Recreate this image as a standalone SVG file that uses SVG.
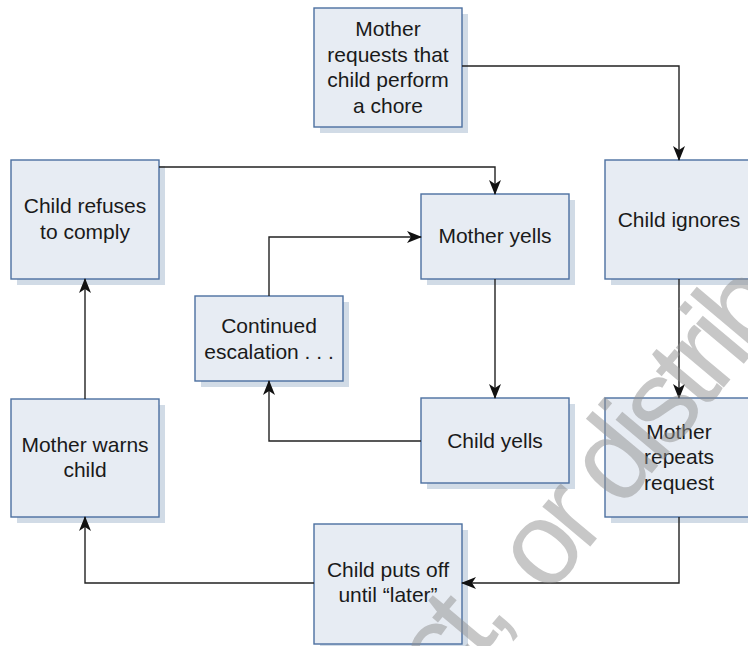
<svg xmlns="http://www.w3.org/2000/svg" width="748" height="646" viewBox="0 0 748 646">
<style>
.box{fill:#e7ecf3;stroke:#4c70a0;stroke-width:1.4}
.sh{fill:#d1dbe6}
.t{font-family:"Liberation Sans",Arial,sans-serif;font-size:21px;fill:#1a1a1a;text-anchor:middle}
.c{fill:none;stroke:#222;stroke-width:1.4}
.wm{font-family:"Liberation Sans",Arial,sans-serif;font-size:118px;letter-spacing:-8px;fill:#8f8f8f;fill-opacity:0.5}
</style>
<defs>
<marker id="ah" markerUnits="userSpaceOnUse" markerWidth="16" markerHeight="12" refX="14" refY="6" orient="auto">
<path d="M0,0 L15,6 L0,12 L4,6 z" fill="#111"/>
</marker>
</defs>
<rect width="748" height="646" fill="#fff"/>
<g id="n1"><rect class="sh" x="320" y="14" width="148" height="119"/><rect class="box" x="314" y="8" width="148" height="119"/>
<text class="t" x="388" y="36">Mother</text><text class="t" x="388" y="61.5">requests that</text><text class="t" x="388" y="87">child perform</text><text class="t" x="388" y="112.5">a chore</text></g>
<g id="n2"><rect class="sh" x="17" y="166" width="148" height="119"/><rect class="box" x="11" y="160" width="148" height="119"/>
<text class="t" x="85" y="213">Child refuses</text><text class="t" x="85" y="239">to comply</text></g>
<g id="n3"><rect class="sh" x="427" y="200" width="148" height="85"/><rect class="box" x="421" y="194" width="148" height="85"/>
<text class="t" x="495" y="243">Mother yells</text></g>
<g id="n4"><rect class="sh" x="201" y="302" width="148" height="85"/><rect class="box" x="195" y="296" width="148" height="85"/>
<text class="t" x="269" y="333">Continued</text><text class="t" x="269" y="359">escalation . . .</text></g>
<g id="n5"><rect class="sh" x="611" y="166" width="148" height="119"/><rect class="box" x="605" y="160" width="148" height="119"/>
<text class="t" x="679" y="227">Child ignores</text></g>
<g id="n6"><rect class="sh" x="427" y="404" width="148" height="85"/><rect class="box" x="421" y="398" width="148" height="85"/>
<text class="t" x="495" y="448">Child yells</text></g>
<g id="n7"><rect class="sh" x="611" y="404" width="148" height="119"/><rect class="box" x="605" y="398" width="148" height="119"/>
<text class="t" x="679" y="439">Mother</text><text class="t" x="679" y="464">repeats</text><text class="t" x="679" y="490">request</text></g>
<g id="n8"><rect class="sh" x="17" y="405" width="148" height="118"/><rect class="box" x="11" y="399" width="148" height="118"/>
<text class="t" x="85" y="452">Mother warns</text><text class="t" x="85" y="477">child</text></g>
<g id="n9"><rect class="sh" x="320" y="530" width="148" height="120"/><rect class="box" x="314" y="524" width="148" height="120"/>
<text class="t" x="388" y="577">Child puts off</text><text class="t" x="388" y="602">until “later”</text></g>
<g id="connectors">
<path class="c" d="M462,66 H679 V160" marker-end="url(#ah)"/>
<path class="c" d="M159,167 H495 V194" marker-end="url(#ah)"/>
<path class="c" d="M269,296 V237 H421" marker-end="url(#ah)"/>
<path class="c" d="M495,279 V398" marker-end="url(#ah)"/>
<path class="c" d="M421,441 H269 V381" marker-end="url(#ah)"/>
<path class="c" d="M679,279 V398" marker-end="url(#ah)"/>
<path class="c" d="M679,517 V583 H462" marker-end="url(#ah)"/>
<path class="c" d="M314,583 H85 V517" marker-end="url(#ah)"/>
<path class="c" d="M85,399 V279" marker-end="url(#ah)"/>
</g>
<text class="wm" transform="translate(446,698) rotate(-50)">ct,</text>
<text class="wm" transform="translate(548,597) rotate(-50)">or distrib</text>
</svg>
